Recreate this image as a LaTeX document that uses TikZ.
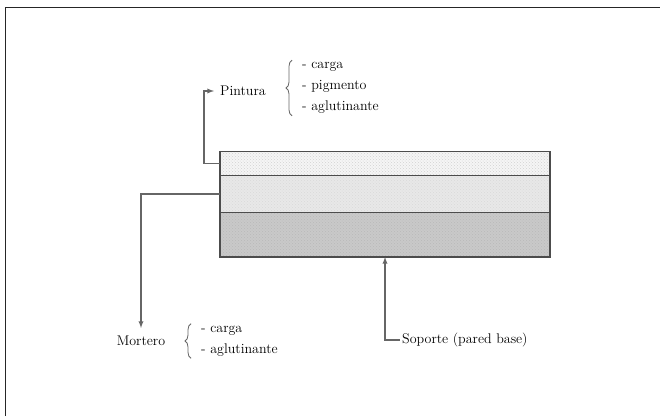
\documentclass[tikz,border=0pt]{standalone}
\usetikzlibrary{positioning,calc,decorations.pathreplacing,patterns}

\begin{document}
\begin{tikzpicture}[x=1pt,y=-1pt,-latex,
  layer/.style={draw=black!70,line width=1.5pt,minimum width=330pt,inner sep=0pt,outer sep=0pt},
  lbl/.style={font=\fontsize{14}{21}\selectfont,inner sep=2pt,text=black},
  conn/.style={draw=black!60,line width=1.3pt},
  brc/.style={-,draw=black!60,line width=0.8pt,decorate,decoration={brace,amplitude=6pt}}]

\useasboundingbox (0,0) rectangle (660,416);

%%%%%%%%%%%%%%%%%%%%%% FRAME

\draw[-,line width=1.5pt,black!85] (5.5,416) -- (5.5,7.5) -- (660,7.5);

%%%%%%%%%%%%%%%%%%%%%% LAYERS

\node[layer,anchor=north west,minimum height=24pt,preaction={fill=gray!8},pattern=crosshatch dots,pattern color=gray!35] (pintura layer) at (220,151.5) {};
\node[layer,below=0pt of pintura layer,minimum height=37pt,preaction={fill=gray!18},pattern=crosshatch dots,pattern color=gray!30] (mortero layer) {};
\node[layer,below=0pt of mortero layer,minimum height=44.5pt,preaction={fill=gray!42},pattern=crosshatch dots,pattern color=gray!55] (soporte layer) {};

%%%%%%%%%%%%%%%%%%%%%% PINTURA

\node[lbl,anchor=west,inner xsep=6pt] (pintura) at (214,91) {Pintura};
\node[lbl,anchor=west,align=left] (pintura items) at (300,88) {- carga\\- pigmento\\- aglutinante};
\draw[brc] ([xshift=-8pt]pintura items.south west) -- ([xshift=-8pt]pintura items.north west);
\draw[conn] (pintura layer.west) -- ++(-16,0) |- (pintura);

%%%%%%%%%%%%%%%%%%%%%% MORTERO

\node[lbl] (mortero) at (141,341) {Mortero};
\node[lbl,anchor=west,align=left] (mortero items) at (199,341) {- carga\\- aglutinante};
\draw[brc] ([xshift=-8pt]mortero items.south west) -- ([xshift=-8pt]mortero items.north west);
\draw[conn,shorten >=6pt] (mortero layer.west) -| (mortero);

%%%%%%%%%%%%%%%%%%%%%% SOPORTE

\node[lbl,anchor=west] (soporte) at (400,340) {Soporte (pared base)};
\draw[conn] (soporte.west) -| (soporte layer.south);

\end{tikzpicture}
\end{document}
